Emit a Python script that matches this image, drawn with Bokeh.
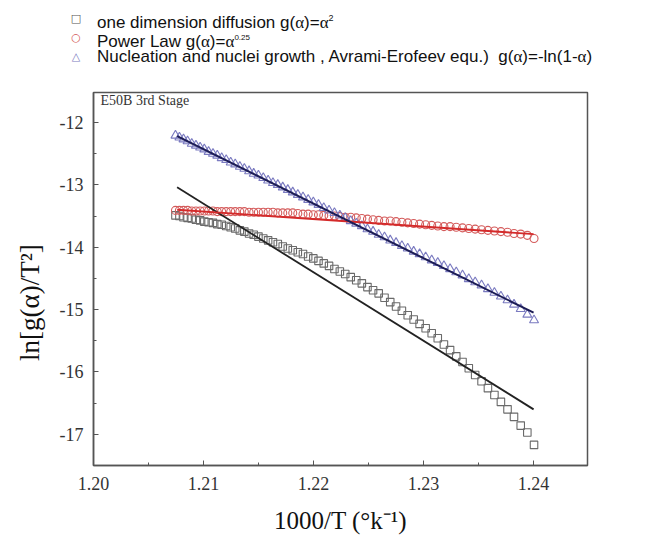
from bokeh.plotting import figure
from bokeh.layouts import column
from bokeh.models import (Range1d, NumeralTickFormatter, FixedTicker, Label,
                          PrintfTickFormatter, Div)
from bokeh.embed import file_html
from bokeh.resources import INLINE

# ---------------- data ----------------
inv_T = [1.20745, 1.20781, 1.20818, 1.20855, 1.20893, 1.20931, 1.20969, 1.21007,
         1.21046, 1.21086, 1.21125, 1.21165, 1.21206, 1.21247, 1.21288, 1.21330,
         1.21371, 1.21414, 1.21456, 1.21499, 1.21543, 1.21587, 1.21631, 1.21675,
         1.21720, 1.21766, 1.21811, 1.21857, 1.21904, 1.21951, 1.21998, 1.22045,
         1.22093, 1.22141, 1.22190, 1.22239, 1.22288, 1.22338, 1.22388, 1.22439,
         1.22490, 1.22541, 1.22592, 1.22645, 1.22697, 1.22750, 1.22803, 1.22856,
         1.22910, 1.22964, 1.23019, 1.23074, 1.23129, 1.23185, 1.23241, 1.23297,
         1.23354, 1.23411, 1.23469, 1.23527, 1.23585, 1.23644, 1.23703, 1.23763,
         1.23822, 1.23883, 1.23943, 1.24004]

diffusion = [-13.49, -13.50, -13.52, -13.53, -13.54, -13.56, -13.57, -13.59,
             -13.60, -13.61, -13.63, -13.64, -13.66, -13.68, -13.70, -13.73,
             -13.75, -13.78, -13.80, -13.83, -13.86, -13.89, -13.92, -13.95,
             -13.99, -14.02, -14.05, -14.08, -14.11, -14.15, -14.18, -14.22,
             -14.26, -14.30, -14.35, -14.39, -14.43, -14.48, -14.53, -14.58,
             -14.64, -14.69, -14.74, -14.81, -14.88, -14.95, -15.02, -15.09,
             -15.16, -15.23, -15.30, -15.38, -15.46, -15.56, -15.65, -15.75,
             -15.84, -15.94, -16.05, -16.15, -16.26, -16.37, -16.48, -16.60,
             -16.72, -16.86, -16.97, -17.17]

power_law = [-13.41, -13.41, -13.41, -13.41, -13.42, -13.42, -13.42, -13.42,
             -13.42, -13.42, -13.43, -13.43, -13.43, -13.43, -13.43, -13.43,
             -13.43, -13.44, -13.44, -13.44, -13.44, -13.44, -13.44, -13.45,
             -13.45, -13.45, -13.45, -13.46, -13.47, -13.47, -13.48, -13.48,
             -13.49, -13.50, -13.50, -13.51, -13.52, -13.52, -13.53, -13.54,
             -13.55, -13.56, -13.57, -13.58, -13.58, -13.59, -13.60, -13.61,
             -13.62, -13.63, -13.64, -13.65, -13.66, -13.67, -13.67, -13.68,
             -13.69, -13.70, -13.71, -13.72, -13.73, -13.74, -13.75, -13.76,
             -13.78, -13.79, -13.81, -13.86]

avrami = [-12.21, -12.24, -12.27, -12.30, -12.34, -12.37, -12.40, -12.43,
          -12.47, -12.50, -12.53, -12.57, -12.60, -12.64, -12.67, -12.71,
          -12.74, -12.78, -12.82, -12.85, -12.89, -12.93, -12.97, -13.00,
          -13.04, -13.08, -13.12, -13.16, -13.20, -13.24, -13.28, -13.32,
          -13.37, -13.41, -13.45, -13.49, -13.53, -13.58, -13.62, -13.66,
          -13.71, -13.75, -13.80, -13.84, -13.89, -13.93, -13.98, -14.02,
          -14.07, -14.11, -14.16, -14.21, -14.25, -14.30, -14.35, -14.40,
          -14.45, -14.51, -14.56, -14.61, -14.67, -14.73, -14.79, -14.85,
          -14.92, -14.99, -15.08, -15.17]

# linear fits (end points)
fit_x = [1.2076, 1.2400]
fit_diffusion = [-13.04, -16.60]
fit_power = [-13.40, -13.79]
fit_avrami = [-12.22, -15.05]

x_ticks = [1.20, 1.21, 1.22, 1.23, 1.24]
y_ticks = [-17, -16, -15, -14, -13, -12]

A = "<span style='font-family:\"Liberation Serif\";'>\u03b1</span>"
legend_markers = ["\u25a1", "\u25cb", "\u25b3"]
legend_labels = ["one dimension diffusion g(" + A + ")=" + A + "<sup style='font-size:9px;'>2</sup>",
                 "Power Law g(" + A + ")=" + A + "<sup style='font-size:8px;'>0.25</sup>",
                 "Nucleation and nuclei growth , Avrami-Erofeev equ.)&nbsp; g(" + A + ")=-ln(1-" + A + ")"]

SQ_COL = "#6a6a6a"
CI_COL = "#d45a5a"
TR_COL = "#7a7ac0"
marker_cols = ["#555555", CI_COL, TR_COL]

# ---------------- legend (HTML) ----------------
W = 650
LH = 80
rows_top = [9, 28, 47]
parts = []
for m, c, lab, t in zip(legend_markers, marker_cols, legend_labels, rows_top):
    parts.append(
        f"<div style='position:absolute;left:68px;top:{t}px;width:16px;height:19px;"
        f"line-height:19px;text-align:center;font-family:\"DejaVu Sans\";font-size:11px;color:{c};'>{m}</div>")
    parts.append(
        f"<div style='position:absolute;left:97px;top:{t}px;height:19px;line-height:19px;"
        f"white-space:nowrap;font-family:\"Liberation Sans\";font-size:17px;color:#111;'>{lab}</div>")
html = (f"<div style='position:relative;width:{W}px;height:{LH}px;margin:0;padding:0;'>"
        + "".join(parts) + "</div>")
leg = Div(text=html, width=W, height=LH, margin=(0, 0, 0, 0))

# ---------------- main figure ----------------
MH = 536 - LH
p = figure(width=W, height=MH, output_backend="svg", toolbar_location=None,
           x_range=Range1d(1.20, 1.2449), y_range=Range1d(-17.5, -11.52),
           min_border_left=93, min_border_right=63, min_border_top=12,
           min_border_bottom=67)
p.grid.visible = False
p.outline_line_color = "#555555"
p.outline_line_width = 1.5

p.scatter(inv_T, diffusion, marker="square", size=7.5, fill_color=None,
          line_color=SQ_COL, line_width=1.1)
p.scatter(inv_T, power_law, marker="circle", size=8, fill_color=None,
          line_color=CI_COL, line_width=1.1)
p.scatter(inv_T, avrami, marker="triangle", size=9, fill_color=None,
          line_color=TR_COL, line_width=1.1)

p.line(fit_x, fit_diffusion, line_color="#222222", line_width=1.8)
p.line(fit_x, fit_power, line_color="#d42a2a", line_width=1.8)
p.line(fit_x, fit_avrami, line_color="#1c1c55", line_width=2.0)

p.add_layout(Label(x=1.20064, y=-11.647, text="E50B 3rd Stage",
                   text_font="Liberation Serif", text_font_size="14px",
                   text_baseline="middle", text_color="#333333"))

for ax in (p.xaxis[0], p.yaxis[0]):
    ax.axis_line_color = "#555555"
    ax.axis_line_width = 1.5
    ax.major_tick_in = 5
    ax.major_tick_out = 0
    ax.minor_tick_in = 3
    ax.minor_tick_out = 0
    ax.major_tick_line_color = "#555555"
    ax.minor_tick_line_color = "#555555"
    ax.major_label_text_font = "Liberation Serif"
    ax.major_label_text_font_size = "18px"
    ax.major_label_text_color = "#333333"
    ax.axis_label_text_font = "Liberation Serif"
    ax.axis_label_text_font_style = "normal"
    ax.axis_label_text_color = "#111111"

p.xaxis.ticker = FixedTicker(ticks=x_ticks, minor_ticks=[1.205, 1.215, 1.225, 1.235])
p.yaxis.ticker = FixedTicker(ticks=y_ticks, minor_ticks=[-17.5, -16.5, -15.5, -14.5, -13.5, -12.5])
p.xaxis.formatter = NumeralTickFormatter(format="0.00")
p.yaxis.formatter = PrintfTickFormatter(format="%d")
p.xaxis.major_label_standoff = 11
p.yaxis.major_label_standoff = 10
p.xaxis.axis_label = "1000/T (\u00b0k\u207b\u00b9)"
p.yaxis.axis_label = "ln[g(\u03b1)/T\u00b2]" + "\u00a0" * 7
p.xaxis.axis_label_text_font_size = "25px"
p.yaxis.axis_label_text_font_size = "27px"
p.xaxis.axis_label_standoff = 14
p.yaxis.axis_label_standoff = 12

layout = column(leg, p, spacing=0)
open("out.html", "w").write(file_html(layout, INLINE))
